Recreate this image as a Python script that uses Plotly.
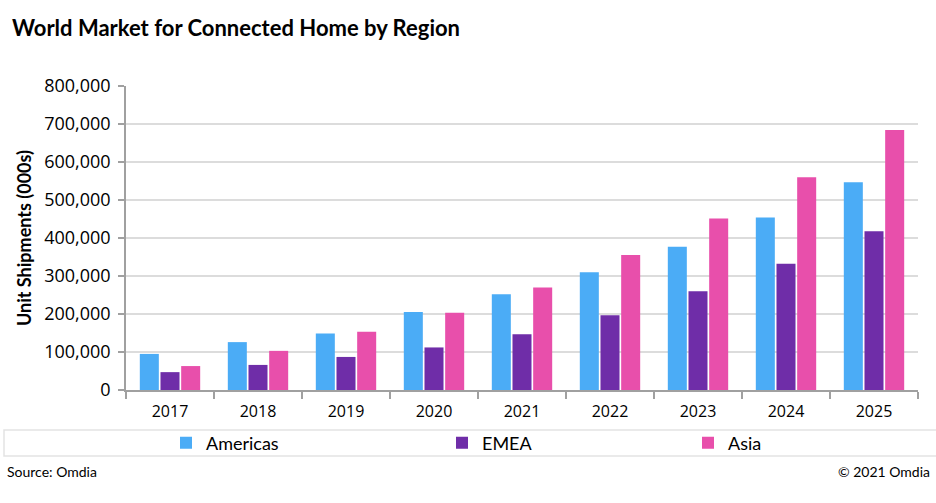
import plotly.graph_objects as go

years = ["2017", "2018", "2019", "2020", "2021", "2022", "2023", "2024", "2025"]
americas = [95000, 126000, 149000, 205000, 252000, 310000, 377000, 454000, 547000]
emea = [47000, 66000, 87000, 112000, 147000, 197000, 260000, 332000, 418000]
asia = [63000, 103000, 153000, 203000, 270000, 355000, 451000, 560000, 684000]
y_ticks = [0, 100000, 200000, 300000, 400000, 500000, 600000, 700000, 800000]

series = [("Americas", americas, "#4BACF6", "legend"),
          ("EMEA", emea, "#6F2DA8", "legend2"),
          ("Asia", asia, "#E84FAB", "legend3")]

PW = 792.0  # plot width px
PH = 304.0  # plot height px
def px(xp):
    return (xp - 126) / PW
def py(yp):
    return (390 - yp) / PH

fig = go.Figure()
for name, vals, col, lg in series:
    fig.add_trace(go.Bar(x=years, y=vals, name=name, legend=lg,
                         marker=dict(color=col, line=dict(width=0))))

leg_common = dict(orientation="h", yanchor="middle", y=py(443), xanchor="left",
                  font=dict(family="Lato", size=18, color="#000"),
                  itemwidth=30, bgcolor="rgba(0,0,0,0)")

fig.update_layout(
    width=936, height=503,
    margin=dict(l=126, r=18, t=86, b=113),
    paper_bgcolor="white", plot_bgcolor="white",
    barmode="group", bargap=0.295, bargroupgap=0.08,
    font=dict(family="Open Sans", color="#000000"),
    showlegend=True,
    legend=dict(x=px(166), **leg_common),
    legend2=dict(x=px(442), **leg_common),
    legend3=dict(x=px(688), **leg_common),
    annotations=[
        dict(text="<b>World Market for Connected Home by Region</b>", xref="paper", yref="paper",
             x=px(10), y=py(27), xanchor="left", yanchor="middle", showarrow=False,
             font=dict(family="Lato", size=22, color="#000")),
        dict(text="Source: Omdia", xref="paper", yref="paper", x=px(5), y=py(471),
             xanchor="left", yanchor="middle", showarrow=False,
             font=dict(family="Lato", size=14, color="#000")),
        dict(text="© 2021 Omdia", xref="paper", yref="paper", x=px(932), y=py(471),
             xanchor="right", yanchor="middle", showarrow=False,
             font=dict(family="Lato", size=14, color="#000")),
    ],
    shapes=[
        dict(type="rect", xref="paper", yref="paper", x0=px(4), x1=px(940),
             y0=py(456), y1=py(430), line=dict(color="#e3e3e3", width=1.5),
             fillcolor="rgba(0,0,0,0)", layer="below"),
    ],
)

fig.update_xaxes(
    type="category", showline=True, linecolor="#a0a0a0", linewidth=1.5,
    ticks="outside", tickson="boundaries", ticklen=7, tickcolor="#a0a0a0", tickwidth=1.5,
    tickfont=dict(family="Open Sans", size=16, color="#000"), showgrid=False,
    ticklabelstandoff=6,
)
fig.update_yaxes(
    range=[0, 800000], tickvals=y_ticks, tickformat=",", showline=True, linecolor="#a0a0a0",
    linewidth=1.5, ticks="outside", ticklen=6, tickcolor="#a0a0a0", tickwidth=1.5,
    showgrid=True, gridcolor="#dcdcdc", gridwidth=2,
    tickfont=dict(family="Open Sans", size=18, color="#000"), ticklabelstandoff=4,
    title=dict(text="<b>Unit Shipments (000s)</b>", font=dict(family="Lato", size=18, color="#000"), standoff=8),
    zeroline=False,
)

fig.write_html("out.html")
